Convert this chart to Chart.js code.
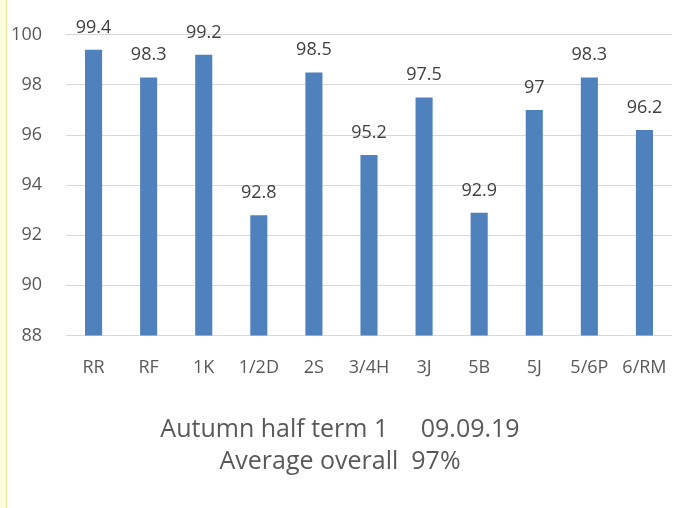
<!DOCTYPE html>
<html>
<head>
<meta charset="utf-8">
<script src="https://cdn.jsdelivr.net/npm/chart.js@4"></script>
<style>
  html, body { margin: 0; padding: 0; background: #fff; }
  body { width: 683px; height: 508px; position: relative; overflow: hidden; }
  .strip { position: absolute; left: 0; top: 0; width: 6px; height: 508px; background: #fdfde0; border-right: 1px solid #e8e49a; }
  #wrap { position: absolute; left: 0; top: 0; width: 683px; height: 508px; }
</style>
</head>
<body>
<div class="strip"></div>
<div id="wrap"><canvas id="myChart"></canvas></div>
<script>
const classes = ['RR', 'RF', '1K', '1/2D', '2S', '3/4H', '3J', '5B', '5J', '5/6P', '6/RM']
const attendance = [99.4, 98.3, 99.2, 92.8, 98.5, 95.2, 97.5, 92.9, 97, 98.3, 96.2]
const titleLines = ['Autumn half term 1     09.09.19', 'Average overall  97%']

const fontFamily = "'Open Sans', 'Liberation Sans', sans-serif"

// draw the value above each bar
const valueLabels = {
    id: 'valueLabels',
    afterDatasetsDraw(chart) {
        const ctx = chart.ctx
        const meta = chart.getDatasetMeta(0)
        ctx.save()
        ctx.fillStyle = '#404040'
        ctx.font = '18px ' + fontFamily
        ctx.textAlign = 'center'
        ctx.textBaseline = 'alphabetic'
        meta.data.forEach((bar, i) => {
            ctx.fillText(String(attendance[i]), bar.x, bar.y - 17)
        })
        ctx.restore()
    }
}

const ctx = document.getElementById('myChart').getContext('2d')
new Chart(ctx, {
    type: 'bar',
    data: {
        labels: classes,
        datasets: [{
            data: attendance,
            backgroundColor: '#4F81BD',
            categoryPercentage: 1,
            barPercentage: 0.31
        }]
    },
    options: {
        responsive: true,
        maintainAspectRatio: false,
        animation: false,
        layout: { padding: { top: 21, right: 11, left: 8, bottom: 30 } },
        scales: {
            x: {
                grid: { display: false },
                border: { display: false },
                ticks: { color: '#595959', font: { size: 18, family: fontFamily }, padding: 14, maxRotation: 0, autoSkip: false }
            },
            y: {
                min: 88,
                max: 100,
                afterFit: (scale) => { scale.width = 58 },
                ticks: { stepSize: 2, color: '#595959', font: { size: 18, family: fontFamily }, padding: 24 },
                grid: { color: '#d9d9d9', drawTicks: false },
                border: { display: false }
            }
        },
        plugins: {
            legend: { display: false },
            tooltip: { enabled: false },
            title: {
                display: true,
                position: 'bottom',
                text: titleLines,
                color: '#595959',
                font: { size: 25, weight: 'normal', family: fontFamily, lineHeight: 1.28 },
                padding: { top: 21, bottom: 0 }
            }
        }
    },
    plugins: [valueLabels]
})
</script>
</body>
</html>
